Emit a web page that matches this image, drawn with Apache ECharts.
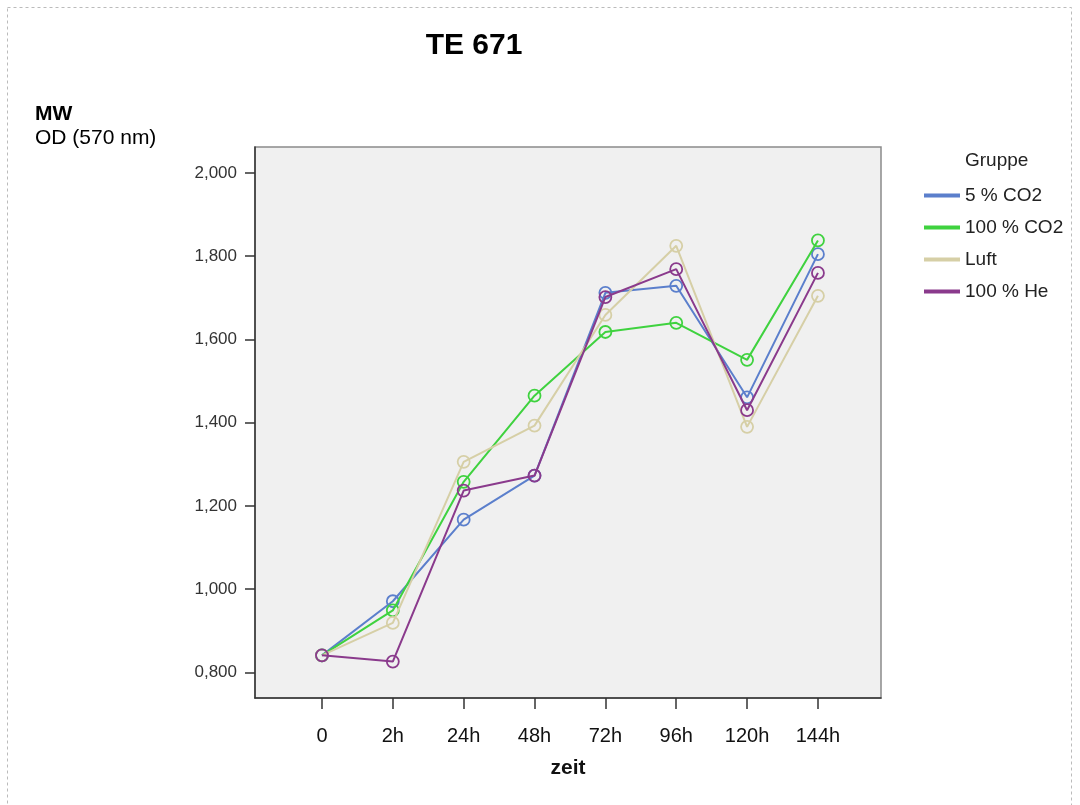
<!DOCTYPE html>
<html>
<head>
<meta charset="utf-8">
<script src="https://cdn.jsdelivr.net/npm/echarts@6/dist/echarts.min.js"></script>
<style>
html,body{margin:0;padding:0;background:#fff;}
#chart{width:1080px;height:805px;}
</style>
</head>
<body>
<div id="chart"></div>
<script>
const categories = ['0', '2h', '24h', '48h', '72h', '96h', '120h', '144h'];
const seriesNames = ['5 % CO2', '100 % CO2', 'Luft', '100 % He'];
const co2_5   = [0.841, 0.971, 1.167, 1.273, 1.712, 1.729, 1.461, 1.805];
const co2_100 = [0.841, 0.949, 1.258, 1.465, 1.618, 1.640, 1.551, 1.838];
const luft    = [0.841, 0.919, 1.306, 1.393, 1.659, 1.825, 1.390, 1.705];
const he_100  = [0.841, 0.826, 1.237, 1.273, 1.702, 1.769, 1.430, 1.760];
const yTicks  = [0.8, 1.0, 1.2, 1.4, 1.6, 1.8, 2.0];
const colors = ['#5b7fcc', '#3fd23f', '#d6cfa6', '#8a3a8c'];
const allValues = [co2_5, co2_100, luft, he_100];

const chart = echarts.init(document.getElementById('chart'));
const font = 'Liberation Sans, Arial, sans-serif';

const series = seriesNames.map((name, i) => ({
  name: name,
  type: 'line',
  data: allValues[i].map((v, j) => [j, v]),
  symbol: 'circle',
  symbolSize: 12,
  showSymbol: true,
  lineStyle: { color: colors[i], width: 2 },
  itemStyle: { color: 'rgba(0,0,0,0)', borderColor: colors[i], borderWidth: 1.8 },
  emphasis: { disabled: true },
  z: 3 + i
}));

chart.setOption({
  animation: false,
  backgroundColor: '#ffffff',
  title: {
    text: 'TE 671',
    left: 469, top: 26, textAlign: 'center',
    textStyle: { fontFamily: font, fontSize: 30, fontWeight: 'bold', color: '#000' }
  },
  legend: {
    orient: 'vertical',
    left: 919, top: 181,
    itemWidth: 34, itemHeight: 2,
    itemGap: 13,
    icon: 'rect',
    data: seriesNames.map((n, i) => ({ name: n, itemStyle: { color: colors[i] } })),
    textStyle: { fontFamily: font, fontSize: 19, color: '#222', padding: [0, 0, 0, 1] },
    selectedMode: false
  },
  grid: {
    left: 255, top: 147, width: 626, height: 551,
    show: true, backgroundColor: '#f0f0f0',
    borderColor: '#8a8a8a', borderWidth: 1.5
  },
  xAxis: {
    type: 'value',
    min: -0.945, max: 7.89,
    splitLine: { show: false },
    axisLine: { show: true, onZero: false, lineStyle: { color: '#333', width: 1.5 } },
    axisTick: { show: true, length: 11, lineStyle: { color: '#333', width: 1.5 }, customValues: categories.map((c, i) => i) },
    axisLabel: {
      customValues: categories.map((c, i) => i),
      formatter: v => categories[Math.round(v)],
      margin: 28,
      fontFamily: font, fontSize: 20, color: '#111'
    },
    name: 'zeit',
    nameLocation: 'middle',
    nameGap: 60,
    nameTextStyle: { fontFamily: font, fontSize: 21, fontWeight: 'bold', color: '#111' }
  },
  yAxis: {
    type: 'value',
    min: 0.7385, max: 2.0625,
    splitLine: { show: false },
    axisLine: { show: true, onZero: false, lineStyle: { color: '#333', width: 1.5 } },
    axisTick: { show: true, length: 10, lineStyle: { color: '#333', width: 1.5 }, customValues: yTicks },
    axisLabel: {
      customValues: yTicks,
      formatter: v => v.toFixed(3).replace('.', ','),
      margin: 18,
      fontFamily: font, fontSize: 17, color: '#333'
    }
  },
  graphic: [
    { type: 'rect', shape: { x: 7.5, y: 7.5, width: 1064, height: 810 }, silent: true,
      style: { fill: 'none', stroke: '#bbbbbb', lineWidth: 1, lineDash: [3, 3] } },
    { type: 'text', left: 35, top: 104,
      style: { text: 'MW', font: 'bold 21px ' + font, fill: '#000' } },
    { type: 'text', left: 35, top: 128,
      style: { text: 'OD (570 nm)', font: '21px ' + font, fill: '#000' } },
    { type: 'text', left: 965, top: 151,
      style: { text: 'Gruppe', font: '19px ' + font, fill: '#222' } }
  ],
  series: series
});
</script>
</body>
</html>
